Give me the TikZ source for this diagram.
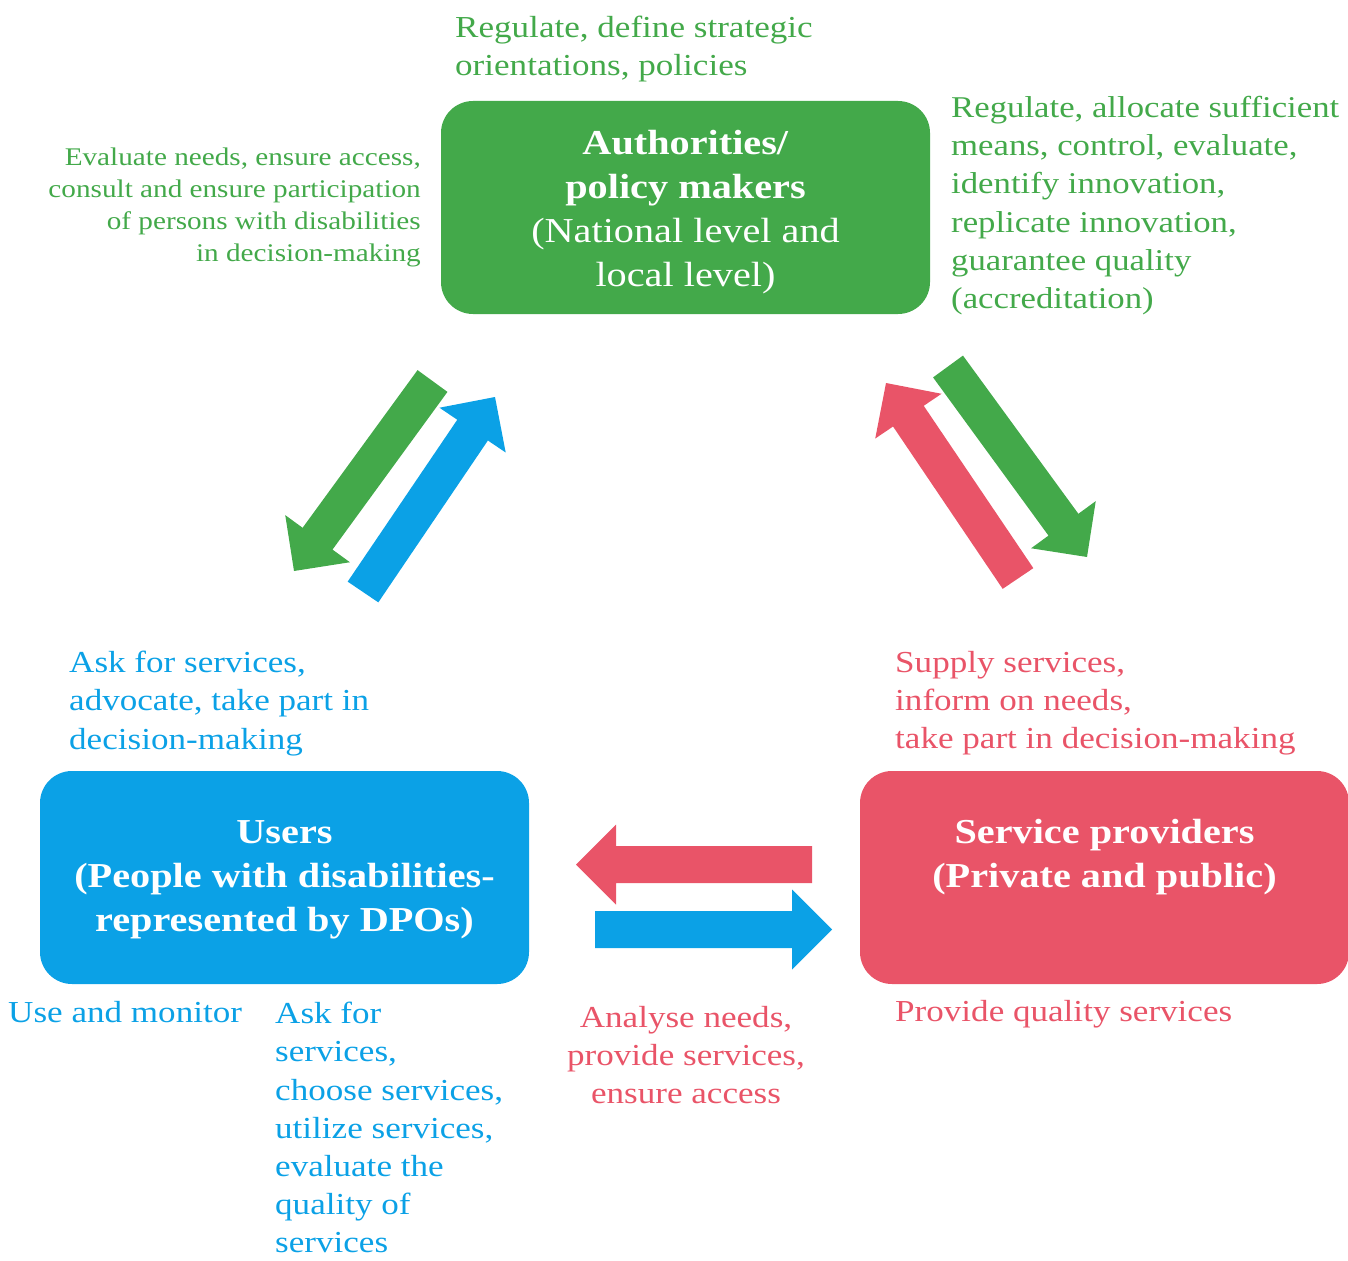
\documentclass[tikz,border=0pt]{standalone}
\usepackage{fontspec}
\setmainfont[FakeStretch=1.15]{Liberation Serif}
\usetikzlibrary{calc}
\definecolor{cgreen}{RGB}{67,169,74}
\definecolor{cblue}{RGB}{11,161,230}
\definecolor{cred}{RGB}{233,84,104}
\newcommand\fatarrow[3]{%
  \coordinate (hb) at ($(#3)!40pt!(#2)$);
  \fill[#1] ($(#2)!18.5pt!90:(#3)$) -- ($(hb)!18.5pt!90:(#3)$) -- ($(hb)!40pt!90:(#3)$) -- (#3)
    -- ($(hb)!40pt!-90:(#3)$) -- ($(hb)!18.5pt!-90:(#3)$) -- ($(#2)!18.5pt!-90:(#3)$) -- cycle;
}
\tikzset{
  box/.style={rounded corners=32pt, minimum width=489pt, minimum height=213pt, inner sep=0pt},
  boxtext/.style={inner sep=0pt, align=center, text=white, font=\fontsize{35}{44}\selectfont},
  lbl/.style={inner sep=0pt, anchor=north west, align=left, font=\fontsize{30.5}{38.2}\selectfont},
  small/.style={inner sep=0pt, anchor=north east, align=right, font=\fontsize{25.4}{32}\selectfont},
}
\begin{document}
\begin{tikzpicture}[x=1pt,y=-1pt]
\useasboundingbox (0,0) rectangle (1348,1260);
% boxes
\node[box, fill=cgreen] (auth) at (685.5,207.5) {};
\node[boxtext] (authtxt) at ($(auth.center)+(0,5)$) {\textbf{Authorities/}\\\textbf{policy makers}\\(National level and\\local level)};
\node[box, fill=cblue] (users) at (284.5,877.5) {};
\node[boxtext] (userstxt) at ($(users.center)+(0,2)$) {\textbf{Users}\\\textbf{(People with disabilities-}\\\textbf{represented by DPOs)}};
\node[box, fill=cred] (prov) at (1104.5,877.5) {};
\node[boxtext] (provtxt) at ($(prov.center)+(0,-20)$) {\textbf{Service providers}\\\textbf{(Private and public)}};
% arrow ends
\coordinate (gl1) at (432.5,381); \coordinate (gl2) at (294,571);
\coordinate (bl1) at (363,592);   \coordinate (bl2) at (495,397);
\coordinate (gr1) at (948,366.5); \coordinate (gr2) at (1087,557);
\coordinate (rr1) at (1018,578.5);\coordinate (rr2) at (886,383);
\coordinate (rb1) at (812,864.5); \coordinate (rb2) at (576,864.5);
\coordinate (bb1) at (595,929.5); \coordinate (bb2) at (832,929.5);
\fatarrow{cgreen}{gl1}{gl2}
\fatarrow{cblue}{bl1}{bl2}
\fatarrow{cgreen}{gr1}{gr2}
\fatarrow{cred}{rr1}{rr2}
\fatarrow{cred}{rb1}{rb2}
\fatarrow{cblue}{bb1}{bb2}
% labels
\node[lbl, text=cgreen] (t1) at (455,16) {Regulate, define strategic\\orientations, policies};
\node[small, text=cgreen] (t2) at (421,148) {Evaluate needs, ensure access,\\consult and ensure participation\\of persons with disabilities\\in decision-making};
\node[lbl, text=cgreen, font=\fontsize{30.2}{38.2}\selectfont] (t3) at (951,96) {Regulate, allocate sufficient\\means, control, evaluate,\\identify innovation,\\replicate innovation,\\guarantee quality\\(accreditation)};
\node[lbl, text=cblue] (t4) at (69,651) {Ask for services,\\advocate, take part in\\decision-making};
\node[lbl, text=cred] (t5) at (895,651) {Supply services,\\inform on needs,\\take part in decision-making};
\node[lbl, text=cblue] (t6) at (8,1001) {Use and monitor};
\node[lbl, text=cblue] (t7) at (275,1002) {Ask for\\services,\\choose services,\\utilize services,\\evaluate the\\quality of\\services};
\node[lbl, text=cred, anchor=north, align=center] (t8) at (686,1006) {Analyse needs,\\provide services,\\ensure access};
\node[lbl, text=cred] (t9) at (895,1000) {Provide quality services};
\end{tikzpicture}
\end{document}
